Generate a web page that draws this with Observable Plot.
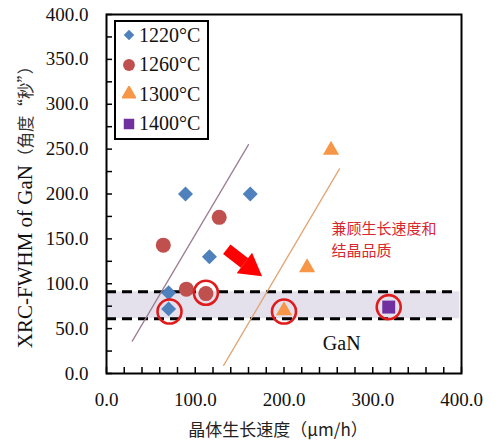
<!DOCTYPE html>
<html>
<head>
<meta charset="utf-8">
<script src="https://cdn.jsdelivr.net/npm/d3@7"></script>
<script src="https://cdn.jsdelivr.net/npm/@observablehq/plot@0.6"></script>
<style>
  html, body { margin: 0; padding: 0; background: #fff; }
  #wrap { position: relative; width: 500px; height: 442px; overflow: hidden; }
  #wrap > svg { position: absolute; left: 0; top: 0; }
  #wrap > svg text { font-family: "Liberation Serif", "Times New Roman", serif; }
  #wrap > svg g.note text { font-family: "Noto Sans CJK SC", sans-serif; }
  .ylab { position: absolute; left: 25px; top: 203px; transform: translate(-50%, -50%) rotate(-90deg); white-space: nowrap; color: #111; }
  .ylab .lat { font-family: "Liberation Serif", "Times New Roman", serif; font-size: 21px; }
  .ylab .cjk { font-family: "Noto Sans CJK SC", sans-serif; font-size: 16.5px; color: #333; }
  .xlab { position: absolute; left: 278px; top: 428px; transform: translate(-50%, -50%); white-space: nowrap; font-family: "Noto Sans CJK SC", sans-serif; font-size: 17px; color: #222; }
  .legend { position: absolute; left: 114px; top: 20px; width: 91px; height: 116px; border: 2px solid #000; background: #fff; }
  .legend .row { position: absolute; left: 0; height: 30px; display: flex; align-items: center; }
  .legend .row svg { display: block; margin-left: 6px; }
  .legend .row span { font-family: "Liberation Serif", "Times New Roman", serif; font-size: 20px; margin-left: 3px; color: #111; }
</style>
</head>
<body>
<div id="wrap"></div>
<script>
// ---- data ----
const seriesNames = ["1220°C", "1260°C", "1300°C", "1400°C"];
const seriesColors = ["#4f81bd", "#c0504d", "#f79646", "#7030a0"];
const seriesSymbols = ["diamond2", "circle", "triangle", "square"];

const s1220x = [89, 162, 116, 70, 70];
const s1220y = [200, 200, 130, 90, 72];
const s1260x = [64, 127, 90, 112];
const s1260y = [143, 174, 94, 89];
const s1300x = [253, 226, 200];
const s1300y = [249, 118, 70];
const s1400x = [318];
const s1400y = [74];

const highlightX = [71, 112, 200, 318];
const highlightY = [69, 90, 69, 74];

const bandLow = 61;
const bandHigh = 91;

const trendAx = [29, 160];
const trendAy = [36, 255];
const trendBx = [132, 262.5];
const trendBy = [9, 228];

const arrowTail = [135.5, 138.5];
const arrowBase = [155.5, 123.2];
const arrowHead = [162, 118.2];

const noteLines = ["兼顾生长速度和", "结晶品质"];
const noteX = 253.5;
const noteY = [160.4, 136];
const gaNLabel = "GaN";
const gaNX = 265;
const gaNY = 33;

const yTicks = [0, 50, 100, 150, 200, 250, 300, 350, 400];
const yMinor = d3.range(0, 401, 25);
const xTicks = [0, 100, 200, 300, 400];
const xMinor = d3.range(0, 401, 20);

// ---- build ----
const pts = [
  ...s1220x.map((x, i) => ({x, y: s1220y[i], s: 0})),
  ...s1260x.map((x, i) => ({x, y: s1260y[i], s: 1})),
  ...s1300x.map((x, i) => ({x, y: s1300y[i], s: 2})),
  ...s1400x.map((x, i) => ({x, y: s1400y[i], s: 3}))
];
const sizeR = [6.75, 7.5, 6, 7.3];
const highlights = highlightX.map((x, i) => ({x, y: highlightY[i]}));
const trendA = trendAx.map((x, i) => ({x, y: trendAy[i]}));
const trendB = trendBx.map((x, i) => ({x, y: trendBy[i]}));
const notes = noteLines.map((t, i) => ({t, x: noteX, y: noteY[i]}));

const serif = '"Liberation Serif", "Times New Roman", serif';

const chart = Plot.plot({
  width: 500,
  height: 442,
  marginLeft: 106,
  marginRight: 39,
  marginTop: 14,
  marginBottom: 69,
  x: {domain: [0, 400]},
  y: {domain: [0, 400]},
  style: {fontFamily: serif, background: "transparent"},
  marks: [
    Plot.rect([0], {x1: 1, x2: 398, y1: bandLow, y2: bandHigh, fill: "#e4e0ec"}),
    Plot.ruleY([bandLow, bandHigh], {x1: 0, x2: 396, stroke: "#000", strokeWidth: 3, strokeDasharray: "10,6"}),
    Plot.line(trendA, {x: "x", y: "y", stroke: "#9c7e92", strokeWidth: 1.3}),
    Plot.line(trendB, {x: "x", y: "y", stroke: "#e2a676", strokeWidth: 1.3}),
    ...[0, 1, 2, 3].map(k => Plot.dot(pts.filter(d => d.s === k), {
      x: "x", y: "y", symbol: seriesSymbols[k], fill: seriesColors[k], r: sizeR[k], stroke: null
    })),
    Plot.dot(highlights, {x: "x", y: "y", r: 12, stroke: "#e01b1b", strokeWidth: 2.6, fill: "none"}),
    Plot.link([0], {x1: arrowTail[0], y1: arrowTail[1], x2: arrowBase[0], y2: arrowBase[1], stroke: "#ff0000", strokeWidth: 12}),
    Plot.dot([0], {x: arrowHead[0], y: arrowHead[1], symbol: "triangle", r: 9.5, rotate: 127, fill: "#ff0000"}),
    Plot.text(notes, {x: "x", y: "y", text: "t", textAnchor: "start", lineAnchor: "middle", fill: "#d7282f", fontSize: 15, fontFamily: "Noto Sans CJK SC, sans-serif", className: "note"}),
    Plot.text([gaNLabel], {x: gaNX, y: gaNY, text: d => d, fontSize: 20, fontFamily: serif, fill: "#111"}),
    Plot.axisY({ticks: yTicks, tickFormat: d3.format(".1f"), tickSize: 0, tickPadding: 18, fontSize: 19, fontFamily: serif, label: null, fill: "#111"}),
    Plot.axisY({ticks: yMinor, tickSize: 6, text: null, dx: 6, label: null, strokeWidth: 1.5}),
    Plot.axisX({ticks: xTicks, tickFormat: d3.format(".1f"), tickSize: 0, tickPadding: 19, fontSize: 19, fontFamily: serif, label: null, fill: "#111"}),
    Plot.axisX({ticks: xMinor, tickSize: 6, text: null, dy: -6, label: null, strokeWidth: 1.5}),
    Plot.frame({stroke: "#000", strokeWidth: 2})
  ]
});

const wrap = document.getElementById("wrap");
wrap.appendChild(chart);

const ylab = document.createElement("div");
ylab.className = "ylab";
ylab.innerHTML = '<span class="lat">XRC-FWHM of GaN</span><span class="cjk">（角度“秒”）</span>';
wrap.appendChild(ylab);

const xlab = document.createElement("div");
xlab.className = "xlab";
xlab.textContent = "晶体生长速度（μm/h）";
wrap.appendChild(xlab);

const legend = document.createElement("div");
legend.className = "legend";
const symPath = k => {
  const sizes = [70, 110, 110, 110];
  const sym = [d3.symbolDiamond2, d3.symbolCircle, d3.symbolTriangle, d3.symbolSquare][k];
  return d3.symbol(sym, sizes[k])();
};
seriesNames.forEach((name, k) => {
  const row = document.createElement("div");
  row.className = "row";
  row.style.top = (k * 29.5 - 2) + "px";
  row.innerHTML = `<svg width="14" height="16" viewBox="-7 -8 14 16"><path d="${symPath(k)}" fill="${seriesColors[k]}"></path></svg><span>${name}</span>`;
  legend.appendChild(row);
});
wrap.appendChild(legend);
</script>
</body>
</html>
